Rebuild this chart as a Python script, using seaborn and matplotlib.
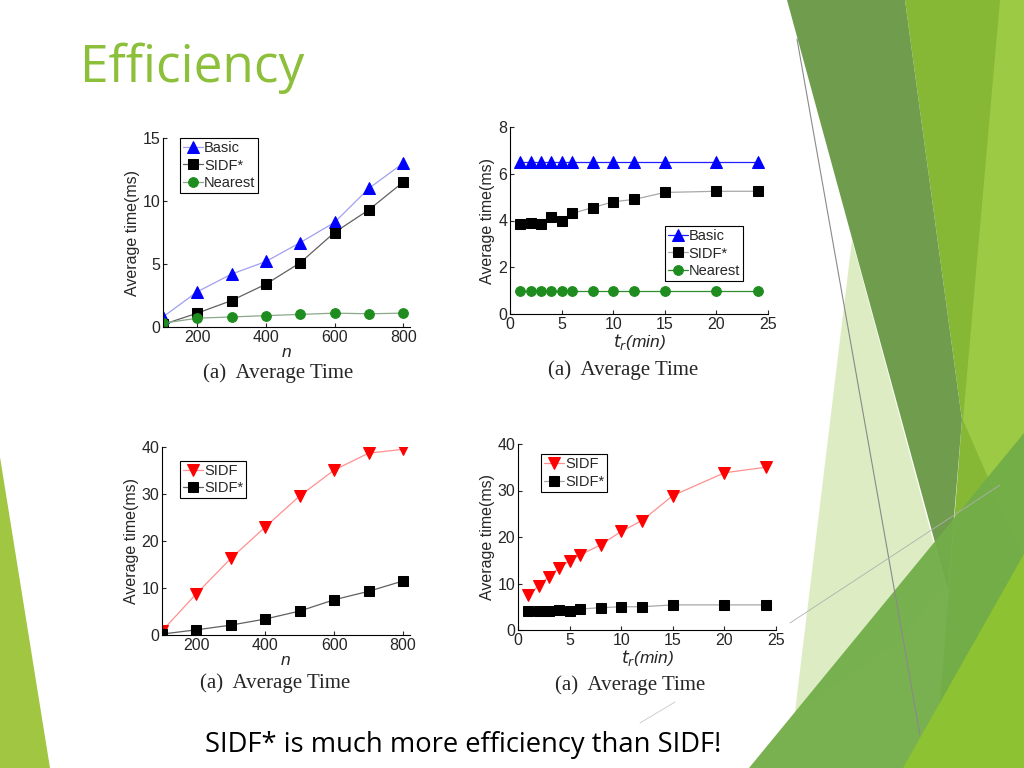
import numpy as np
import pandas as pd
import matplotlib
matplotlib.use("Agg")
import matplotlib.pyplot as plt
from matplotlib.patches import Polygon
import seaborn as sns

# data
n_vals = [100, 200, 300, 400, 500, 600, 700, 800]
basic_n = [0.8, 2.8, 4.2, 5.2, 6.7, 8.3, 11.0, 13.0]
sidfs_n = [0.2, 1.1, 2.1, 3.4, 5.1, 7.5, 9.3, 11.5]
nearest_n = [0.3, 0.7, 0.8, 0.9, 1.0, 1.1, 1.05, 1.1]
sidf_n = [0.85, 8.8, 16.3, 23.0, 29.6, 35.1, 38.7, 39.5]

t_vals = [1, 2, 3, 4, 5, 6, 8, 10, 12, 15, 20, 24]
basic_t = [6.5, 6.5, 6.5, 6.5, 6.5, 6.5, 6.5, 6.5, 6.5, 6.5, 6.5, 6.5]
sidfs_t = [3.85, 3.9, 3.85, 4.15, 4.0, 4.3, 4.55, 4.8, 4.9, 5.2, 5.25, 5.25]
nearest_t = [1.0, 1.0, 1.0, 1.0, 1.0, 1.0, 1.0, 1.0, 1.0, 1.0, 1.0, 1.0]
sidf_t = [7.5, 9.5, 11.5, 13.4, 14.9, 16.1, 18.3, 21.2, 23.5, 28.9, 33.8, 35.0]
sidfs_t2 = [4.0, 4.0, 4.0, 4.3, 4.1, 4.5, 4.8, 5.0, 5.0, 5.4, 5.4, 5.4]

sns.set_style("ticks")
plt.rcParams['font.family'] = ['Liberation Sans', 'DejaVu Sans']

W, H = 1024, 768
fig = plt.figure(figsize=(W / 100, H / 100), dpi=100)

# slide background decorations (pixel coordinates)
bg = fig.add_axes([0, 0, 1, 1])
bg.set_xlim(0, W)
bg.set_ylim(H, 0)
bg.axis("off")
shapes = [
    ([(905, 0), (1024, 0), (1024, 768), (935, 768), (962, 420)], "#86b836", 1),
    ([(1000, 0), (1024, 0), (1024, 560), (963, 420)], "#9dca45", 1),
    ([(787, 0), (905, 0), (962, 420), (948, 590)], "#6f9d4d", 1),
    ([(852, 240), (945, 585), (900, 640), (795, 712)], "#d5e8b4", 0.8),
    ([(749, 768), (1024, 433), (1024, 768)], "#72ad48", 0.95),
    ([(903, 768), (1024, 554), (1024, 768)], "#8dc232", 1),
    ([(0, 457), (0, 768), (50, 768)], "#a1c642", 1),
]
for pts, col, a in shapes:
    bg.add_patch(Polygon(pts, closed=True, facecolor=col, edgecolor="none", alpha=a))
bg.plot([797, 920], [39, 735], color="#8a8a8a", lw=0.8)
bg.plot([790, 1000], [623, 485], color="#b0b0b0", lw=0.6)
bg.plot([640, 675], [723, 702], color="#c8c8c8", lw=0.6)

fig.text(80 / W, 1 - 82 / H, "Efficiency", color="#8cbf3a", fontsize=37,
         family="Open Sans", ha="left", va="baseline")
fig.text(463 / W, 1 - 752 / H, "SIDF* is much more efficiency than SIDF!",
         color="black", fontsize=19.7, family="Open Sans", ha="center", va="baseline")


def draw(ax, x, y, label, marker, mcolor, lcolor, ms):
    sns.lineplot(x=x, y=y, ax=ax, label=label, color=lcolor, lw=0.9,
                 marker=marker, markersize=ms, markerfacecolor=mcolor,
                 markeredgecolor=mcolor)


def style(ax, xlim, ylim, xticks, yticks, xlabel):
    ax.set_facecolor("none")
    ax.set_xlim(*xlim)
    ax.set_ylim(*ylim)
    ax.set_xticks(xticks)
    ax.set_yticks(yticks)
    ax.tick_params(direction="in", length=3, labelsize=11.5, pad=2, width=0.8)
    for s in ["left", "bottom"]:
        ax.spines[s].set_linewidth(0.8)
        ax.spines[s].set_color("black")
    sns.despine(ax=ax)
    ax.set_ylabel("Average time(ms)", fontsize=11.5, labelpad=2)
    ax.set_xlabel(xlabel, fontsize=12.5, labelpad=0, style="italic")


def legend(ax, loc, anchor):
    ax.legend(loc=loc, bbox_to_anchor=anchor, fontsize=10.5, frameon=True,
              fancybox=False, edgecolor="black", framealpha=1,
              handlelength=1.4, handletextpad=0.05, borderpad=0.2,
              labelspacing=0.25, borderaxespad=0)
    ax.get_legend().get_frame().set_linewidth(0.8)


def caption(x, y):
    fig.text(x / W, 1 - y / H, "(a)  Average Time", family="Liberation Serif",
             fontsize=15, ha="center", va="center")


# top-left: time vs n
ax1 = fig.add_axes([163 / W, 1 - 327 / H, 247 / W, 189 / H])
draw(ax1, n_vals, basic_n, "Basic", "^", "#0000ff", "#a0a0f0", 8)
draw(ax1, n_vals, sidfs_n, "SIDF*", "s", "black", "#606060", 6.5)
draw(ax1, n_vals, nearest_n, "Nearest", "o", "#1e8c1e", "#8aa88a", 7)
style(ax1, (100, 820), (0, 15), [200, 400, 600, 800], [0, 5, 10, 15], "n")
legend(ax1, "upper left", (0.069, 1.0))
caption(278, 373)

# top-right: time vs t_r
ax2 = fig.add_axes([510 / W, 1 - 314 / H, 258 / W, 187 / H])
draw(ax2, t_vals, basic_t, "Basic", "^", "#0000ff", "#2020ff", 8)
draw(ax2, t_vals, sidfs_t, "SIDF*", "s", "black", "#a8a8a8", 6.5)
draw(ax2, t_vals, nearest_t, "Nearest", "o", "#1e8c1e", "#2e8e2e", 7)
style(ax2, (0, 25), (0, 8), [0, 5, 10, 15, 20, 25], [0, 2, 4, 6, 8], r"$t_r$(min)")
legend(ax2, "lower right", (0.903, 0.176))
caption(623, 370)

# bottom-left: SIDF vs SIDF* over n
ax3 = fig.add_axes([162 / W, 1 - 635 / H, 248 / W, 188 / H])
draw(ax3, n_vals, sidf_n, "SIDF", "v", "#ff0000", "#ff9090", 8)
draw(ax3, n_vals, sidfs_n, "SIDF*", "s", "black", "#606060", 6.5)
style(ax3, (100, 820), (0, 40), [200, 400, 600, 800], [0, 10, 20, 30, 40], "n")
legend(ax3, "upper left", (0.073, 0.926))
caption(275, 683)

# bottom-right: SIDF vs SIDF* over t_r
ax4 = fig.add_axes([518 / W, 1 - 630 / H, 258 / W, 186 / H])
draw(ax4, t_vals, sidf_t, "SIDF", "v", "#ff0000", "#ff9090", 8)
draw(ax4, t_vals, sidfs_t2, "SIDF*", "s", "black", "#a8a8a8", 6.5)
style(ax4, (0, 25), (0, 40), [0, 5, 10, 15, 20, 25], [0, 10, 20, 30, 40], r"$t_r$(min)")
legend(ax4, "upper left", (0.089, 0.946))
caption(630, 685)

fig.savefig("out.png", dpi=100)
